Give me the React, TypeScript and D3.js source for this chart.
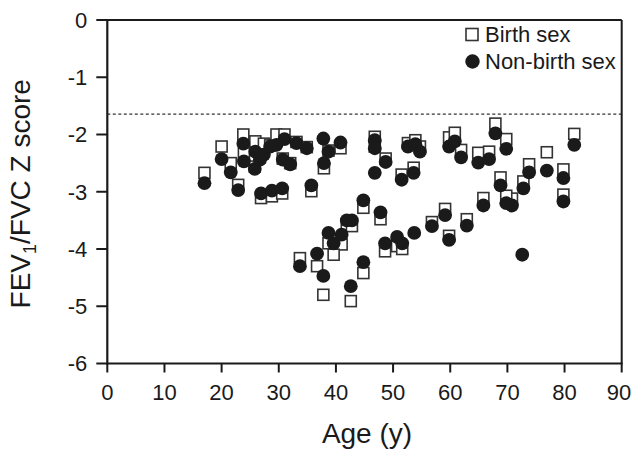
import React from "react";
import * as d3 from "d3";

const ages = [17, 20, 21.6, 22.9, 23.8, 23.9, 25.9, 25.8, 27.4, 26.7, 28.5, 29.6, 31.0, 30.7, 32.0, 33.1, 34.9,
  26.9, 28.8, 30.6, 35.7, 37.8, 38.7, 37.9, 40.8, 46.8, 46.8, 46.8, 48.7, 51.5, 53.6, 52.6, 54.7, 53.9,
  59.8, 60.8, 61.9, 64.9, 66.8, 67.9, 69.8, 73.8, 76.9, 79.8, 81.7, 68.8, 72.8, 79.8, 70.8, 69.8, 65.8,
  72.6, 62.9, 59.1, 59.8, 56.8, 53.7, 48.6, 50.7, 51.6, 44.8, 47.8, 41.9, 42.8, 41.0, 38.7, 39.6, 36.7,
  33.7, 37.8, 42.6, 44.8];
const birthSex: (number | null)[] = [-2.67, -2.21, -2.50, -2.88, -2.00, -2.33, -2.12, -2.56, -2.16, -2.40, -2.19, -2.00, -2.00, -2.42, -2.50, -2.13, -2.22,
  -3.11, -3.08, -3.03, -2.99, null, -2.28, -2.59, -2.24, -2.04, -2.21, null, -2.42, -2.70, -2.58, -2.15, -2.21, -2.10,
  -2.05, -1.97, -2.27, -2.32, -2.30, -1.81, -2.08, -2.52, -2.31, -2.61, -1.99, -2.75, -2.82, -3.05, -3.12, -3.07, -3.11,
  null, -3.48, -3.30, -3.77, -3.53, null, -4.04, -3.95, -4.00, -3.28, -3.48, -3.58, -3.60, -3.92, -3.90, -4.10, -4.30,
  -4.16, -4.80, -4.91, -4.42];
const nonBirthSex = [-2.85, -2.43, -2.66, -2.97, -2.16, -2.47, -2.30, -2.60, -2.35, -2.44, -2.21, -2.18, -2.08, -2.44, -2.52, -2.15, -2.24,
  -3.03, -2.98, -2.94, -2.89, -2.07, -2.30, -2.50, -2.14, -2.10, -2.24, -2.67, -2.48, -2.79, -2.67, -2.21, -2.30, -2.17,
  -2.21, -2.12, -2.40, -2.49, -2.43, -1.98, -2.25, -2.66, -2.63, -2.76, -2.18, -2.89, -2.94, -3.17, -3.24, -3.20, -3.24,
  -4.10, -3.59, -3.41, -3.84, -3.60, -3.72, -3.90, -3.79, -3.90, -3.15, -3.36, -3.50, -3.50, -3.75, -3.72, -3.90, -4.08,
  -4.30, -4.47, -4.65, -4.23];
const xTicks = [0, 10, 20, 30, 40, 50, 60, 70, 80, 90];
const yTicks = [0, -1, -2, -3, -4, -5, -6];
const lln = -1.645;
const legendLabels = ["Birth sex", "Non-birth sex"];

const W = 632, H = 451;
const L = 107.3, R = 621.7, T = 20, B = 363.5;
const FONT = "'Liberation Sans', Arial, Helvetica, sans-serif";
const AX = "#1a1a1a";

export default function App() {
  const x = d3.scaleLinear().domain([0, 90]).range([L, R]);
  const y = d3.scaleLinear().domain([0, -6]).range([T, B]);
  const sq = 11;
  return (
    <svg width={W} height={H} style={{ position: "absolute", left: 0, top: 0, background: "#fff" }} fontFamily={FONT}>
      {/* dotted LLN */}
      <line x1={L} x2={R} y1={y(lln)} y2={y(lln)} stroke="#333" strokeWidth={1.2} strokeDasharray="3,2.5" />
      {/* squares */}
      {ages.map((a, i) => {
        const v = birthSex[i];
        if (v === null) return null;
        return (
          <rect key={"s" + i} x={x(a) - sq / 2} y={y(v) - sq / 2} width={sq} height={sq}
            fill="#fff" stroke="#333" strokeWidth={1.6} />
        );
      })}
      {/* circles */}
      {ages.map((a, i) => (
        <circle key={"c" + i} cx={x(a)} cy={y(nonBirthSex[i])} r={6.9} fill="#1a1a1a" />
      ))}
      {/* frame */}
      <line x1={L} x2={R} y1={T} y2={T} stroke={AX} strokeWidth={2} />
      <line x1={R} x2={R} y1={T} y2={B} stroke={AX} strokeWidth={2} />
      <line x1={L} x2={L} y1={T - 1} y2={B + 1} stroke={AX} strokeWidth={2.2} />
      <line x1={L - 1} x2={R + 1} y1={B} y2={B} stroke={AX} strokeWidth={2.2} />
      {/* y ticks */}
      {yTicks.map((t) => (
        <g key={"yt" + t}>
          <line x1={L - 11} x2={L} y1={y(t)} y2={y(t)} stroke={AX} strokeWidth={2} />
          <text x={L - 20} y={y(t)} dy="0.36em" textAnchor="end" fontSize={22} fill="#1a1a1a">{t}</text>
        </g>
      ))}
      {/* x ticks */}
      {xTicks.map((t) => (
        <g key={"xt" + t}>
          <line x1={x(t)} x2={x(t)} y1={B} y2={B + 9} stroke={AX} strokeWidth={2} />
          <text x={Math.min(x(t), W - 13)} y={400} textAnchor="middle" fontSize={22} fill="#1a1a1a">{t}</text>
        </g>
      ))}
      {/* axis titles */}
      <text x={367} y={443} textAnchor="middle" fontSize={28} fill="#1a1a1a">Age (y)</text>
      <text transform={`translate(30,${(T + B) / 2 + 2}) rotate(-90)`} textAnchor="middle" fontSize={28} fill="#1a1a1a">
        FEV<tspan fontSize={18} dy={6}>1</tspan><tspan dy={-6}>/FVC Z score</tspan>
      </text>
      {/* legend */}
      <rect x={466} y={28.5} width={12} height={12} fill="#fff" stroke="#333" strokeWidth={1.6} />
      <text x={485} y={41.5} fontSize={22} fill="#1a1a1a">{legendLabels[0]}</text>
      <circle cx={472.5} cy={61.5} r={7.2} fill="#1a1a1a" />
      <text x={485} y={68.5} fontSize={22} fill="#1a1a1a">{legendLabels[1]}</text>
    </svg>
  );
}
